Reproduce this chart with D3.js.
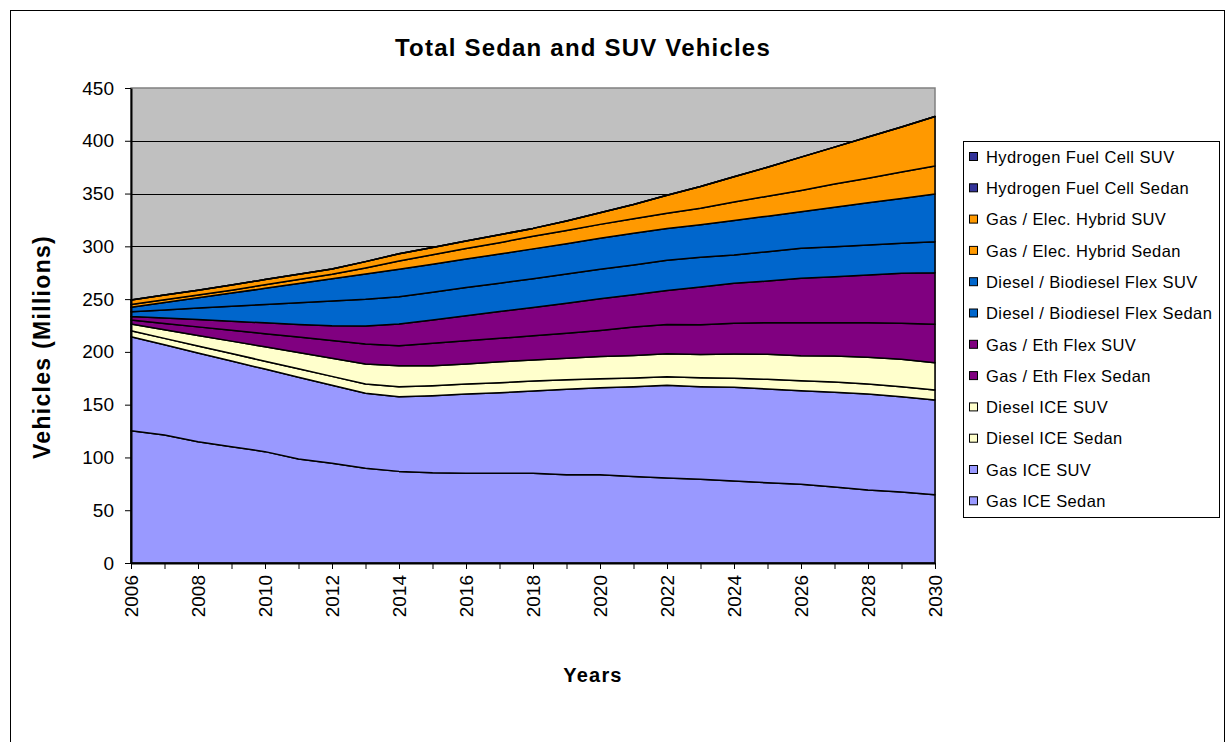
<!DOCTYPE html>
<html>
<head>
<meta charset="utf-8">
<script src="https://cdn.jsdelivr.net/npm/d3@7"></script>
<style>
  body { margin: 0; background: #fff; }
  text { font-family: "Liberation Sans", Arial, sans-serif; }
</style>
</head>
<body>
<script>
// years on the x axis
var years = d3.range(2006, 2031);

// series, bottom of the stack first (millions of vehicles)
var gasIceSedan = [125.3,121.3,114.9,110.2,105.5,98.5,94.4,89.7,86.8,85.5,85,85,85,83.5,83.5,82,80.5,79.3,77.7,76.1,74.5,72,69.2,67.3,64.7];
var gasIceSuv = [89.1,85.4,84.1,81.2,78.2,77.5,74,71.1,70.8,73,75.1,76.3,77.9,81,82.6,85,87.8,87.7,88.7,88.7,88.7,89.7,90.9,90.3,89.7];
var dieselIceSedan = [5.6,6.1,6.6,7,7.5,8,8.4,8.8,9.4,9.5,9.5,9.5,9.5,9,8.5,8.2,8.1,8.5,8.6,9.2,9.5,9.8,9.5,9.4,9.5];
var dieselIceSuv = [6.4,8.2,10,11.8,13.6,15.4,17.2,18.9,19.9,18.9,18.9,19.9,19.9,20.5,21.1,21.4,21.8,22.1,23,23.7,23.7,24.6,25.3,26,25.9];
var gasEthSedan = [3.8,6,8.1,10.3,12.4,14.6,16.8,19,18.9,21.2,22.1,22.2,23,23.7,24.6,26.9,27.7,28,29.1,30,31.3,31.6,32.8,34.1,36.3];
var gasEthSuv = [3.3,5.2,6.9,8.6,10.3,12,14,17.1,20.6,22.2,23.7,25.3,26.8,28.4,30,30.6,32.3,35.8,37.9,39.4,42,43.5,45.1,47.3,48.9];
var dieselBioSedan = [4.5,7.6,10.9,14.1,17.4,20.5,23.3,25.2,25.9,26.3,26.6,26.9,27.3,27.7,28,28.3,28.7,28.2,26.8,27.8,28.4,28.5,28.5,28.5,29.4];
var dieselBioSuv = [4.2,6.9,9.7,12.5,15.3,18.2,21.1,23.9,25.9,26.4,27,27.6,28.2,28.7,29.3,29.9,30,30.8,32.7,33.7,34.7,37.3,39.9,42.5,45.2];
var hybridSedan = [2.8,2.8,2.8,2.8,3.3,3.8,4.3,5.8,7.8,9,10.1,10.8,11.9,12.6,13.2,13.9,14.5,15.7,17.5,18.9,20.2,22,23.3,25.1,26.4];
var hybridSuv = [4.2,4.3,4.5,4.8,5,5,5,6,7,7,7,7.5,7.5,9,11,13.5,17,20.5,24,27.5,31.5,35,39,42.5,47];
var hydrogenSedan = [0,0,0,0,0,0,0,0,0,0,0,0,0,0,0,0,0,0,0,0,0,0,0,0,0];
var hydrogenSuv = [0,0,0,0,0,0,0,0,0,0,0,0,0,0,0,0,0,0,0,0,0,0,0,0,0];

var seriesNames = ["Gas ICE Sedan", "Gas ICE SUV", "Diesel ICE Sedan", "Diesel ICE SUV",
  "Gas / Eth Flex Sedan", "Gas / Eth Flex SUV", "Diesel / Biodiesel Flex Sedan",
  "Diesel / Biodiesel Flex SUV", "Gas / Elec. Hybrid Sedan", "Gas / Elec. Hybrid SUV",
  "Hydrogen Fuel Cell Sedan", "Hydrogen Fuel Cell SUV"];
var seriesValues = [gasIceSedan, gasIceSuv, dieselIceSedan, dieselIceSuv, gasEthSedan, gasEthSuv,
  dieselBioSedan, dieselBioSuv, hybridSedan, hybridSuv, hydrogenSedan, hydrogenSuv];
var seriesColors = ["#9999FF", "#9999FF", "#FFFFCC", "#FFFFCC", "#800080", "#800080",
  "#0066CC", "#0066CC", "#FF9900", "#FF9900", "#333399", "#333399"];

var yTicks = [0, 50, 100, 150, 200, 250, 300, 350, 400, 450];
var xTickLabels = d3.range(2006, 2031, 2);

var width = 1228, height = 742;
var plot = { left: 131, right: 935, top: 88, bottom: 563 };

var svg = d3.select("body").append("svg")
    .attr("width", width)
    .attr("height", height);

// outer chart border
svg.append("rect")
    .attr("x", 10.5).attr("y", 10.5)
    .attr("width", 1214).attr("height", 745)
    .attr("fill", "#fff").attr("stroke", "#000").attr("stroke-width", 1);

var x = d3.scaleLinear().domain([2006, 2030]).range([plot.left, plot.right]);
var y = d3.scaleLinear().domain([0, 450]).range([plot.bottom, plot.top]);

// plot background
svg.append("rect")
    .attr("x", plot.left).attr("y", plot.top)
    .attr("width", plot.right - plot.left).attr("height", plot.bottom - plot.top)
    .attr("fill", "#C0C0C0").attr("stroke", "#808080").attr("stroke-width", 1.5);

// gridlines
svg.append("g").selectAll("line")
    .data(yTicks.filter(function(d) { return d > 0 && d < 450; }))
    .enter().append("line")
    .attr("x1", plot.left).attr("x2", plot.right)
    .attr("y1", function(d) { return Math.round(y(d)) + 0.5; })
    .attr("y2", function(d) { return Math.round(y(d)) + 0.5; })
    .attr("stroke", "#000").attr("stroke-width", 1);

// stacked data
var table = years.map(function(yr, i) {
  var row = { year: yr };
  seriesNames.forEach(function(n, j) { row[n] = seriesValues[j][i]; });
  return row;
});

var stack = d3.stack().keys(seriesNames);
var layers = stack(table);

var area = d3.area()
    .x(function(d) { return x(d.data.year); })
    .y0(function(d) { return y(d[0]); })
    .y1(function(d) { return y(d[1]); });

svg.append("g").selectAll("path")
    .data(layers)
    .enter().append("path")
    .attr("d", area)
    .attr("fill", function(d, i) { return seriesColors[i]; })
    .attr("stroke", "#000")
    .attr("stroke-width", 1.5)
    .attr("stroke-linejoin", "round");

// axes
var yAxis = d3.axisLeft(y).tickValues(yTicks).tickSize(6).tickSizeOuter(0);
var gy = svg.append("g")
    .attr("transform", "translate(" + plot.left + ",0)")
    .call(yAxis);
gy.select(".domain").attr("stroke", "#000").attr("stroke-width", 2);
gy.selectAll(".tick line").attr("stroke", "#000");
gy.selectAll(".tick text")
    .attr("x", -17)
    .attr("font-size", 19)
    .attr("font-family", "Liberation Sans, Arial, sans-serif")
    .attr("fill", "#000");

var xAxis = d3.axisBottom(x).tickValues(years).tickSize(6).tickSizeOuter(0)
    .tickFormat(function(d) { return xTickLabels.indexOf(d) >= 0 ? d : ""; });
var gx = svg.append("g")
    .attr("transform", "translate(0," + plot.bottom + ")")
    .call(xAxis);
gx.select(".domain").attr("stroke", "#000").attr("stroke-width", 2);
gx.selectAll(".tick line").attr("stroke", "#000");
gx.selectAll(".tick text")
    .attr("font-size", 19)
    .attr("font-family", "Liberation Sans, Arial, sans-serif")
    .attr("fill", "#000")
    .attr("transform", "rotate(-90)")
    .attr("text-anchor", "end")
    .attr("x", -12)
    .attr("y", 0)
    .attr("dy", "0.35em");

// titles
svg.append("text")
    .attr("x", 583).attr("y", 56)
    .attr("text-anchor", "middle")
    .attr("font-size", 24).attr("font-weight", "bold")
    .attr("letter-spacing", 1.2)
    .text("Total Sedan and SUV Vehicles");

svg.append("text")
    .attr("transform", "translate(50,347) rotate(-90)")
    .attr("text-anchor", "middle")
    .attr("font-size", 23).attr("font-weight", "bold")
    .attr("letter-spacing", 1.3)
    .text("Vehicles (Millions)");

svg.append("text")
    .attr("x", 593).attr("y", 682)
    .attr("text-anchor", "middle")
    .attr("font-size", 20).attr("font-weight", "bold")
    .attr("letter-spacing", 1.2)
    .text("Years");

// legend
var legend = svg.append("g");
legend.append("rect")
    .attr("x", 963.5).attr("y", 141.5)
    .attr("width", 256).attr("height", 376)
    .attr("fill", "#fff").attr("stroke", "#000").attr("stroke-width", 1);

var legendItems = seriesNames.map(function(n, i) { return { name: n, color: seriesColors[i] }; }).reverse();
var li = legend.selectAll("g.item")
    .data(legendItems)
    .enter().append("g")
    .attr("class", "item")
    .attr("transform", function(d, i) { return "translate(969," + (157 + i * 31.3) + ")"; });
li.append("rect")
    .attr("x", 0.5).attr("y", -4.5)
    .attr("width", 8).attr("height", 8)
    .attr("fill", function(d) { return d.color; })
    .attr("stroke", "#000").attr("stroke-width", 1);
li.append("text")
    .attr("x", 17).attr("y", 0)
    .attr("dy", "0.35em")
    .attr("font-size", 16.5)
    .attr("letter-spacing", 0.4)
    .text(function(d) { return d.name; });
</script>
</body>
</html>
